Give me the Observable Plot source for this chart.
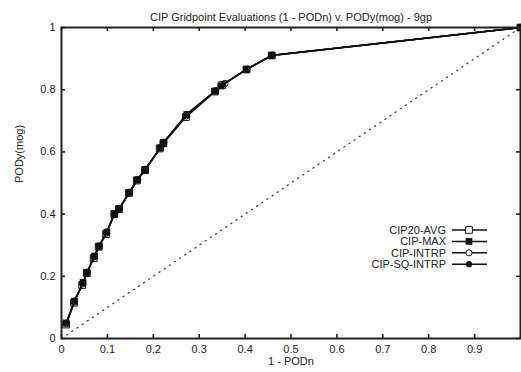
<!DOCTYPE html>
<html>
<head>
<meta charset="utf-8">
<script src="https://cdn.jsdelivr.net/npm/d3@7"></script>
<script src="https://cdn.jsdelivr.net/npm/@observablehq/plot@0.6"></script>
<style>
  html, body { margin: 0; padding: 0; background: #fff; }
  #chart { width: 521px; height: 372px; }
  svg { font-family: "Liberation Sans", Arial, sans-serif; }
</style>
</head>
<body>
<div id="chart"></div>
<script>
const title = "CIP Gridpoint Evaluations (1 - PODn) v. PODy(mog) - 9gp";
const xLabel = "1 - PODn";
const yLabel = "PODy(mog)";
const seriesNames = ["CIP20-AVG", "CIP-MAX", "CIP-INTRP", "CIP-SQ-INTRP"];
const xTicks = [0, 0.1, 0.2, 0.3, 0.4, 0.5, 0.6, 0.7, 0.8, 0.9];
const yTicks = [0, 0.2, 0.4, 0.6, 0.8, 1];

const avgX = [0.010,0.027,0.045,0.055,0.070,0.081,0.097,0.115,0.125,0.147,0.164,0.182,0.214,0.222,0.271,0.334,0.350,0.403,0.458,1];
const avgY = [0.045,0.115,0.172,0.210,0.258,0.295,0.336,0.400,0.416,0.468,0.508,0.541,0.611,0.628,0.712,0.794,0.815,0.865,0.910,1];
const maxX = [0.010,0.028,0.047,0.055,0.072,0.082,0.099,0.115,0.126,0.148,0.165,0.182,0.215,0.222,0.273,0.335,0.347,0.403,0.458,1];
const maxY = [0.050,0.120,0.180,0.212,0.265,0.297,0.342,0.402,0.418,0.470,0.510,0.543,0.613,0.630,0.720,0.795,0.812,0.865,0.910,1];
const intrpX = [0.011,0.028,0.046,0.056,0.071,0.082,0.098,0.116,0.126,0.148,0.166,0.183,0.216,0.223,0.272,0.336,0.356,0.404,0.459,1];
const intrpY = [0.048,0.118,0.176,0.213,0.262,0.297,0.339,0.401,0.418,0.470,0.511,0.544,0.614,0.631,0.716,0.797,0.820,0.866,0.911,1];
const sqX = [0.011,0.029,0.047,0.056,0.072,0.082,0.099,0.116,0.127,0.149,0.166,0.183,0.216,0.223,0.273,0.336,0.352,0.404,0.459,1];
const sqY = [0.050,0.122,0.181,0.214,0.266,0.299,0.344,0.403,0.419,0.471,0.512,0.545,0.615,0.632,0.722,0.797,0.816,0.866,0.911,1];
const diagonal = [[0, 0], [1, 1]];

const toRows = (xs, ys) => xs.map((x, i) => ({x, y: ys[i]}));
const avg = toRows(avgX, avgY);
const mx = toRows(maxX, maxY);
const intrp = toRows(intrpX, intrpY);
const sq = toRows(sqX, sqY);

const W = 521, H = 372;
const mL = 61, mR = 1, mT = 27, mB = 34;
const innerW = W - mL - mR, innerH = H - mT - mB;
const tk = 4;

const plot = Plot.plot({
  width: W, height: H,
  marginLeft: mL, marginRight: mR, marginTop: mT, marginBottom: mB,
  style: {fontFamily: "'Liberation Sans', Arial, sans-serif", fontSize: "11px", color: "#222", background: "#fff", overflow: "visible"},
  x: {domain: [0, 1]},
  y: {domain: [0, 1]},
  marks: [
    Plot.line(diagonal, {x: d => d[0], y: d => d[1], stroke: "#333", strokeWidth: 1.2, strokeDasharray: "1.2,5"}),
    // inward ticks on all four sides
    Plot.gridX(xTicks, {stroke: "#222", strokeOpacity: 1, strokeWidth: 1.6, insetTop: innerH - tk}),
    Plot.gridX(xTicks, {stroke: "#222", strokeOpacity: 1, strokeWidth: 1.6, insetBottom: innerH - tk}),
    Plot.gridY(yTicks, {stroke: "#222", strokeOpacity: 1, strokeWidth: 1.6, insetRight: innerW - tk}),
    Plot.gridY(yTicks, {stroke: "#222", strokeOpacity: 1, strokeWidth: 1.6, insetLeft: innerW - tk}),
    Plot.axisX(xTicks, {tickSize: 0, tickPadding: 7, label: null, tickFormat: d => String(d), fill: "#222"}),
    Plot.axisY(yTicks, {tickSize: 0, tickPadding: 6, label: null, tickFormat: d => String(d), fill: "#222"}),
    Plot.lineY(avg, {x: "x", y: "y", stroke: "#111", strokeWidth: 1.5}),
    Plot.lineY(mx, {x: "x", y: "y", stroke: "#111", strokeWidth: 1.5}),
    Plot.lineY(intrp, {x: "x", y: "y", stroke: "#111", strokeWidth: 1.5}),
    Plot.lineY(sq, {x: "x", y: "y", stroke: "#111", strokeWidth: 1.5}),
    Plot.dot(avg, {x: "x", y: "y", symbol: "square", r: 3.8, stroke: "#111", strokeWidth: 1, fill: "none"}),
    Plot.dot(mx, {x: "x", y: "y", symbol: "square", r: 3.8, fill: "#111", stroke: "none"}),
    Plot.dot(intrp, {x: "x", y: "y", symbol: "circle", r: 3.2, stroke: "#111", strokeWidth: 1, fill: "none"}),
    Plot.dot(sq, {x: "x", y: "y", symbol: "circle", r: 3, fill: "#111", stroke: "none"}),
    Plot.frame({stroke: "#222", strokeWidth: 2}),
    Plot.text([title], {frameAnchor: "top", dy: -14, fontSize: 11, fill: "#222"}),
    Plot.text([xLabel], {frameAnchor: "bottom", dy: 26, fontSize: 11, fill: "#222"}),
    Plot.text([yLabel], {frameAnchor: "left", dx: -42, rotate: -90, fontSize: 11, fill: "#222"})
  ]
});

// legend overlay (inside plot area, upper-right of lower half)
const svg = d3.select(plot);
const lg = svg.append("g").attr("font-size", 11).attr("fill", "#222");
const symbols = [
  {sym: d3.symbolSquare, fill: "none", stroke: "#111"},
  {sym: d3.symbolSquare, fill: "#111", stroke: "none"},
  {sym: d3.symbolCircle, fill: "none", stroke: "#111"},
  {sym: d3.symbolCircle, fill: "#111", stroke: "none"}
];
seriesNames.forEach((name, i) => {
  const yy = 230 + i * 11.4;
  lg.append("text").attr("x", 446).attr("y", yy).attr("dy", "0.36em").attr("text-anchor", "end").text(name);
  lg.append("line").attr("x1", 452).attr("x2", 487).attr("y1", yy).attr("y2", yy).attr("stroke", "#111").attr("stroke-width", 1.5);
  const s = symbols[i];
  const size = s.sym === d3.symbolSquare ? 45 : 30;
  lg.append("path").attr("d", d3.symbol(s.sym, size)()).attr("transform", `translate(469,${yy})`)
    .attr("fill", s.fill === "none" ? "#fff" : s.fill).attr("stroke", s.stroke).attr("stroke-width", 1);
});

document.getElementById("chart").appendChild(plot);
</script>
</body>
</html>
